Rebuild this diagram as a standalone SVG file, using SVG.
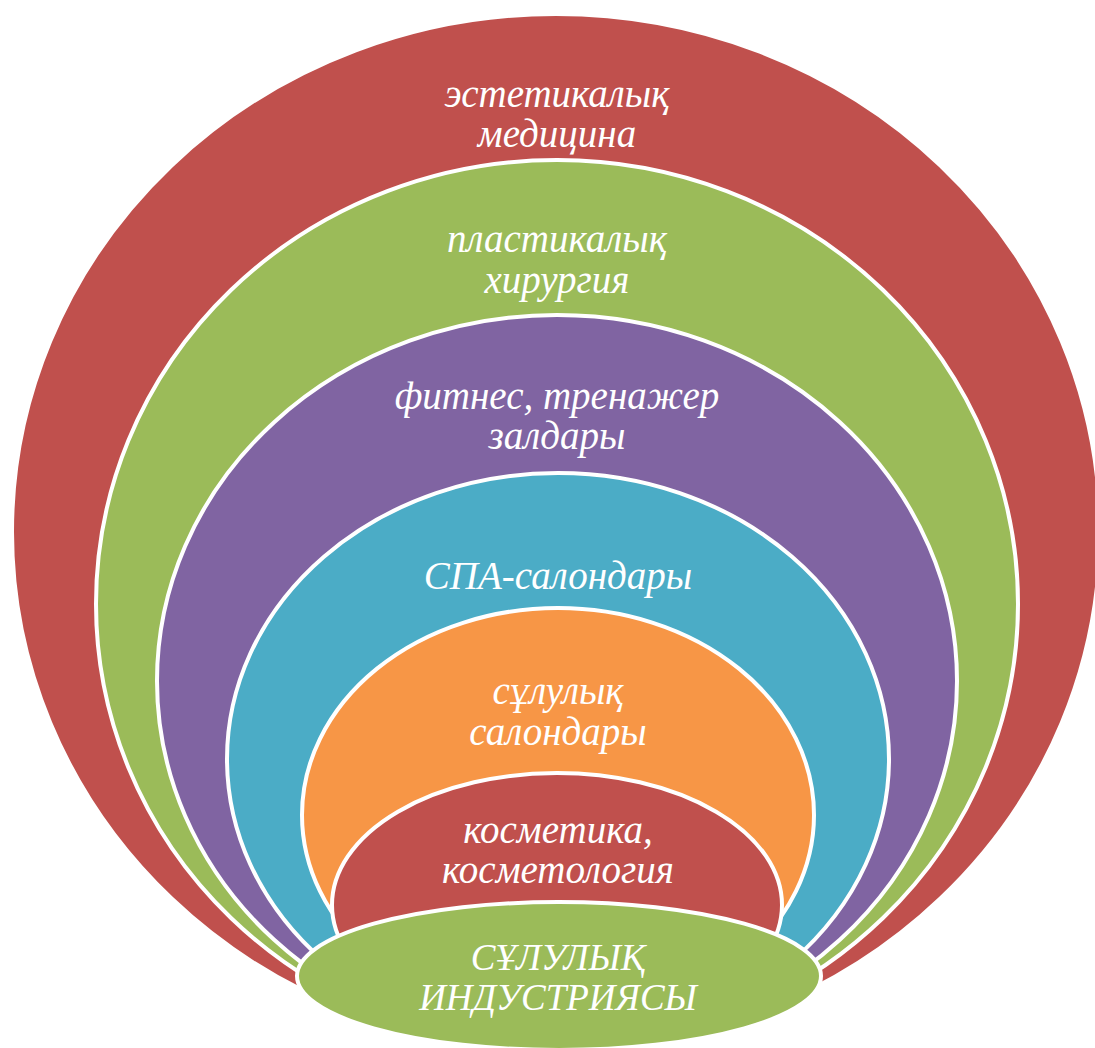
<svg xmlns="http://www.w3.org/2000/svg" width="1095" height="1048" viewBox="0 0 1095 1048">
<style>
.s{stroke:#FFFFFF;stroke-width:4}
.red{fill:#C0504D}
.grn{fill:#9BBB59}
.pur{fill:#8064A2}
.blu{fill:#4BACC6}
.org{fill:#F79646}
.t{font-family:"Liberation Serif","Times New Roman",serif;font-style:italic;font-size:39px;fill:#FFFFFF;text-anchor:middle}
.b{font-size:37px}
</style>
<rect width="1095" height="1048" fill="#FFFFFF"/>
<g id="n1"><ellipse class="s red" cx="556" cy="532" rx="544" ry="518"/>
<text class="t" x="557" y="107">эстетикалық</text><text class="t" x="557" y="147">медицина</text></g>
<g id="n2"><ellipse class="s grn" cx="557" cy="604" rx="461" ry="444"/>
<text class="t" x="557" y="252">пластикалық</text><text class="t" x="557" y="293">хирургия</text></g>
<g id="n3"><ellipse class="s pur" cx="557" cy="681" rx="400" ry="366"/>
<text class="t" x="557" y="409">фитнес, тренажер</text><text class="t" x="557" y="449">залдары</text></g>
<g id="n4"><ellipse class="s blu" cx="558" cy="759" rx="331" ry="286"/>
<text class="t" x="558" y="589">СПА-салондары</text></g>
<g id="n5"><ellipse class="s org" cx="558" cy="815" rx="256" ry="207"/>
<text class="t" x="558" y="704">сұлулық</text><text class="t" x="558" y="745">салондары</text></g>
<g id="n6"><ellipse class="s red" cx="557" cy="905" rx="225" ry="132"/>
<text class="t" x="558" y="843">косметика,</text><text class="t" x="558" y="883">косметология</text></g>
<g id="n7"><ellipse class="s grn" cx="559" cy="976" rx="262" ry="74"/>
<text class="t b" x="558" y="970">СҰЛУЛЫҚ</text><text class="t b" x="558" y="1010">ИНДУСТРИЯСЫ</text></g>
<g id="connectors"></g>
</svg>
